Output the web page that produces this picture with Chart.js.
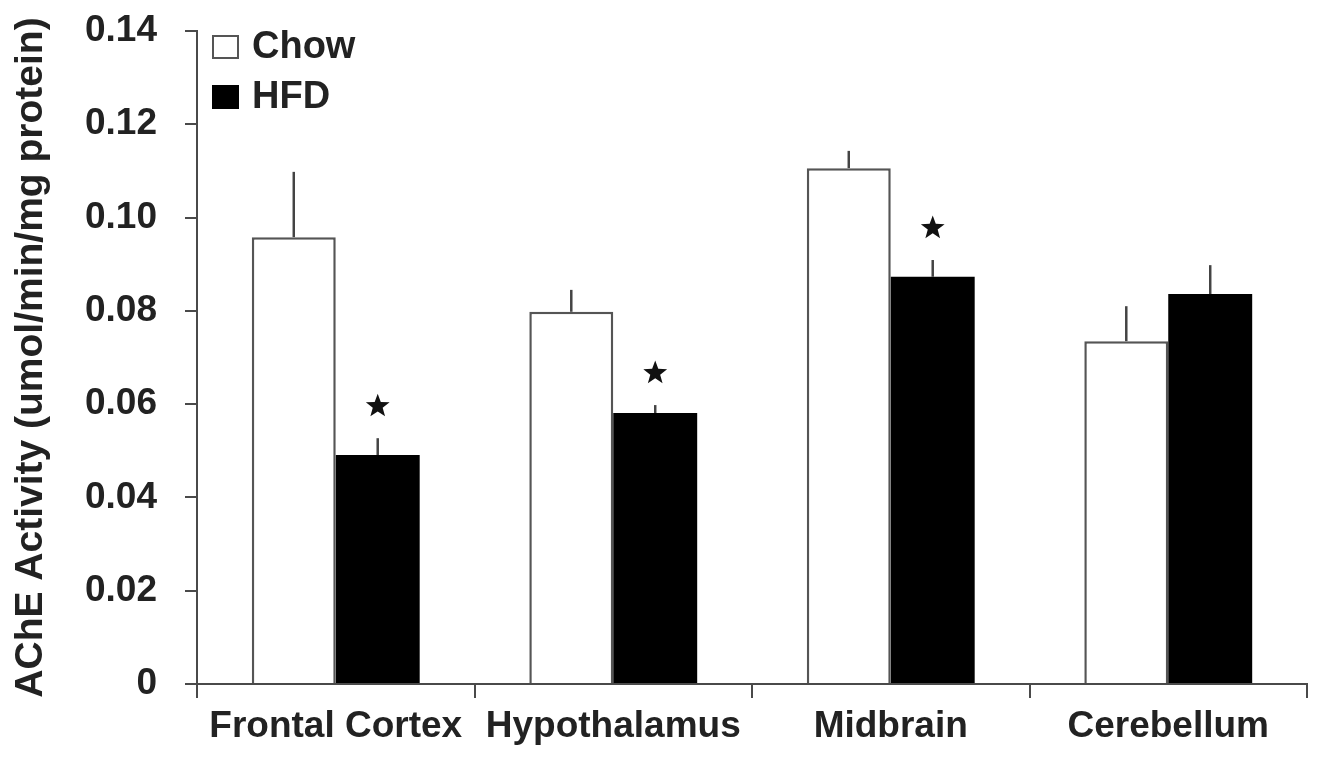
<!DOCTYPE html>
<html>
<head>
<meta charset="utf-8">
<script src="https://cdn.jsdelivr.net/npm/chart.js@4.4.1/dist/chart.umd.min.js"></script>
<style>
  html, body { margin: 0; padding: 0; background: #ffffff; }
  #wrap { width: 1319px; height: 759px; position: relative; }
</style>
</head>
<body>
<div id="wrap"><canvas id="c"></canvas></div>
<script>
// ---- Data ----
const categories = ['Frontal Cortex', 'Hypothalamus', 'Midbrain', 'Cerebellum'];
const seriesNames = ['Chow', 'HFD'];
const chowMeans = [0.0958, 0.0798, 0.1106, 0.0735];
const chowErrors = [0.0140, 0.0047, 0.0037, 0.0075];
const hfdMeans = [0.0491, 0.0581, 0.0873, 0.0836];
const hfdErrors = [0.0036, 0.0017, 0.0036, 0.0062];
const hfdSignificant = [true, true, true, false];
const yTickValues = [0, 0.02, 0.04, 0.06, 0.08, 0.10, 0.12, 0.14];
const yTitle = 'AChE Activity (umol/min/mg protein)';

const FONT = '"Liberation Sans", Arial, Helvetica, sans-serif';
const TEXT = '#222222';
const AXIS = '#4a4a4a';

const errorBarPlugin = {
  id: 'errorBars',
  afterDatasetsDraw(chart) {
    const ctx = chart.ctx;
    const y = chart.scales.y;
    const errs = [chowErrors, hfdErrors];
    ctx.save();
    chart.data.datasets.forEach((ds, di) => {
      const meta = chart.getDatasetMeta(di);
      meta.data.forEach((bar, i) => {
        const v = ds.data[i];
        const top = y.getPixelForValue(v + errs[di][i]);
        const base = y.getPixelForValue(v);
        ctx.strokeStyle = '#444444';
        ctx.lineWidth = 2.5;
        ctx.beginPath();
        ctx.moveTo(bar.x, base);
        ctx.lineTo(bar.x, top);
        ctx.stroke();
        if (di === 1 && hfdSignificant[i]) {
          drawStar(ctx, bar.x, top - 32, 12.5, 5.2);
        }
      });
    });
    ctx.restore();
  },
  afterDraw(chart) {
    // legend inside plot area, top-left
    const ctx = chart.ctx;
    const area = chart.chartArea;
    ctx.save();
    const items = chart.data.datasets.map(ds => ({label: ds.label, fill: ds.backgroundColor}));
    const x0 = area.left + 16;
    const ys = [area.top + 16, area.top + 66];
    items.forEach((it, k) => {
      const cy = ys[k];
      ctx.fillStyle = it.fill;
      ctx.fillRect(x0, cy - 11, 25, 22);
      ctx.strokeStyle = k === 0 ? '#555555' : '#000000';
      ctx.lineWidth = 2;
      ctx.strokeRect(x0, cy - 11, 25, 22);
      ctx.fillStyle = TEXT;
      ctx.font = 'bold 38px ' + FONT;
      ctx.textBaseline = 'middle';
      ctx.textAlign = 'left';
      ctx.fillText(it.label, x0 + 39, cy + 1);
    });
    ctx.restore();
  }
};

function drawStar(ctx, cx, cy, rOut, rIn) {
  ctx.beginPath();
  for (let k = 0; k < 10; k++) {
    const r = k % 2 === 0 ? rOut : rIn;
    const a = -Math.PI / 2 + k * Math.PI / 5;
    const px = cx + r * Math.cos(a), py = cy + r * Math.sin(a);
    if (k === 0) ctx.moveTo(px, py); else ctx.lineTo(px, py);
  }
  ctx.closePath();
  ctx.fillStyle = '#111111';
  ctx.fill();
}

new Chart(document.getElementById('c'), {
  type: 'bar',
  data: {
    labels: categories,
    datasets: [
      { label: seriesNames[0], data: chowMeans, backgroundColor: '#ffffff', borderColor: '#555555', borderWidth: 2.5,
        barPercentage: 1.0, categoryPercentage: 0.605 },
      { label: seriesNames[1], data: hfdMeans, backgroundColor: '#000000', borderColor: '#000000', borderWidth: 0,
        barPercentage: 1.0, categoryPercentage: 0.605 }
    ]
  },
  options: {
    responsive: true,
    maintainAspectRatio: false,
    animation: false,
    devicePixelRatio: 1,
    layout: { padding: { left: 0, right: 12, top: 31, bottom: 0 } },
    plugins: { legend: { display: false }, tooltip: { enabled: false } },
    scales: {
      x: {
        afterFit(s) { s.height = 75; s.paddingLeft = 0; s.paddingRight = 0; },
        border: { display: true, color: AXIS, width: 2 },
        grid: { offset: true, drawOnChartArea: false, drawTicks: true, tickLength: 14, color: AXIS, lineWidth: 2 },
        ticks: { color: TEXT, font: { family: FONT, size: 37, weight: 'bold' }, padding: 7, maxRotation: 0, autoSkip: false }
      },
      y: {
        min: 0, max: 0.14,
        afterFit(s) { s.width = 197; s.paddingTop = 0; s.paddingBottom = 0; },
        afterBuildTicks(s) { s.ticks = yTickValues.map(v => ({ value: v })); },
        border: { display: true, color: AXIS, width: 2 },
        grid: { drawOnChartArea: false, drawTicks: true, tickLength: 12, color: AXIS, lineWidth: 2 },
        ticks: {
          color: TEXT, font: { family: FONT, size: 37, weight: 'bold' }, padding: 28,
          callback: (v) => v === 0 ? '0' : Number(v).toFixed(2)
        },
        title: { display: true, text: yTitle, color: TEXT, font: { family: FONT, size: 39, weight: 'bold' }, padding: { top: 8, bottom: 0 } }
      }
    }
  },
  plugins: [errorBarPlugin]
});
</script>
</body>
</html>
